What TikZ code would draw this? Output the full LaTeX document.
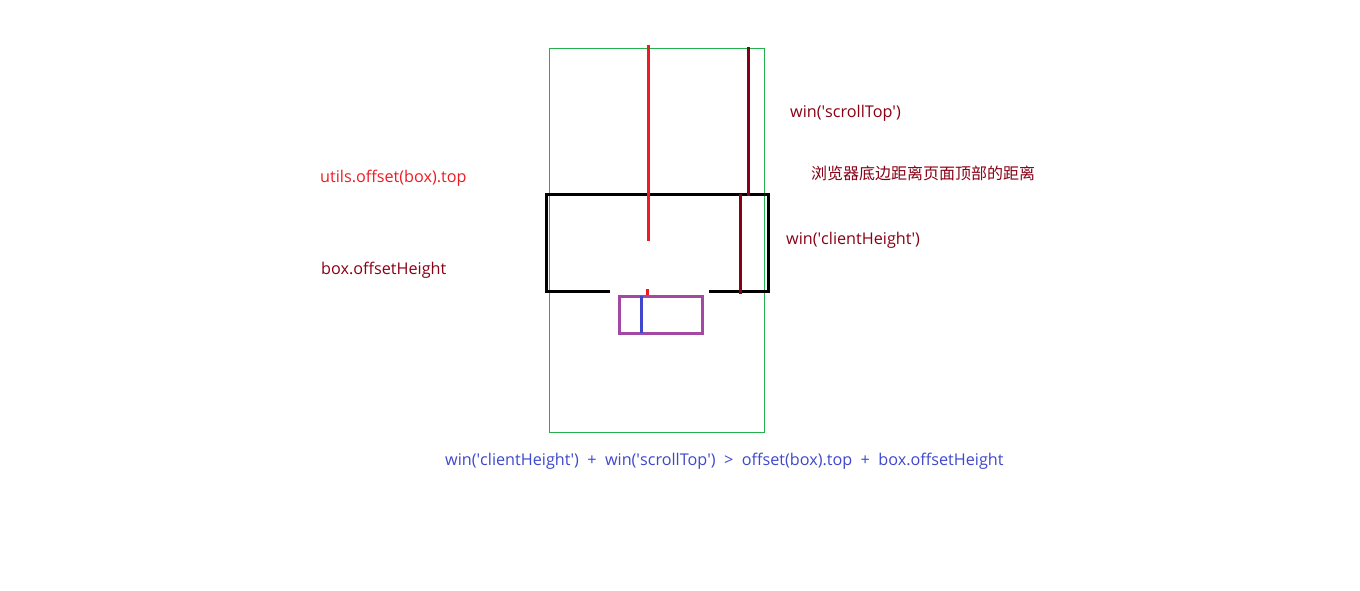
\documentclass[tikz,border=0pt]{standalone}
\usepackage{fontspec}
\setmainfont{Open Sans}
\newfontfamily\cjk{Noto Sans CJK SC}
\newcommand{\q}{\textquotesingle}
\definecolor{pred}{HTML}{ED1C24}
\definecolor{pdark}{HTML}{880015}
\definecolor{pblue}{HTML}{3F48CC}
\definecolor{ppurple}{HTML}{A349A4}
\definecolor{pgreen}{HTML}{22B14C}
\begin{document}
\begin{tikzpicture}[x=1pt,y=-1pt,
  lbl/.style={anchor=west,inner sep=0pt,font=\fontsize{16.2}{19}\selectfont},
  thick3/.style={line width=3pt}]
\useasboundingbox (0,0) rectangle (1360,591);
% window (green)
\draw[pgreen,line width=1pt] (549.5,48.5) rectangle (764.5,432);
% box (black) with gap at bottom
\draw[black,thick3] (610,291) -- (546.5,291) -- (546.5,194.5) -- (768.5,194.5) -- (768.5,291) -- (709,291);
% offset top line (red)
\coordinate (rt) at (648.5,45);
\coordinate (rb) at (648.5,240.5);
\draw[pred,thick3] (rt) -- (rb);
\coordinate (rst) at (647.5,289);
\coordinate (rsb) at (647.5,296.5);
\draw[pred,thick3] (rst) -- (rsb);
% scrollTop line
\coordinate (st) at (748.5,47);
\coordinate (sb) at (748.5,195.5);
\draw[pdark,thick3] (st) -- (sb);
% clientHeight line
\coordinate (ct) at (740.5,194);
\coordinate (cb) at (740.5,293.5);
\draw[pdark,thick3] (ct) -- (cb);
% purple box
\draw[ppurple,thick3] (619.5,296) rectangle (702.5,333);
\coordinate (bt) at (641.5,296);
\coordinate (bb) at (641.5,333);
\draw[pblue,thick3] (bt) -- (bb);
% labels
\node[lbl,text=pdark] (l1) at (790,113) {win(\q scrollTop\q)};
\node[lbl,text=pred] (l2) at (320,178) {utils.offset(box).top};
\node[lbl,text=pdark,font=\cjk\fontsize{16}{18}\selectfont] (l3) at (811,173) {浏览器底边距离页面顶部的距离};
\node[lbl,text=pdark] (l4) at (786,240) {win(\q clientHeight\q)};
\node[lbl,text=pdark] (l5) at (321,270) {box.offsetHeight};
\node[lbl,text=pblue] (l6) at (445,461) {win(\q clientHeight\q)\ \ +\ \ win(\q scrollTop\q)\ \ >\ \ offset(box).top\ \ +\ \ box.offsetHeight};
\end{tikzpicture}
\end{document}
